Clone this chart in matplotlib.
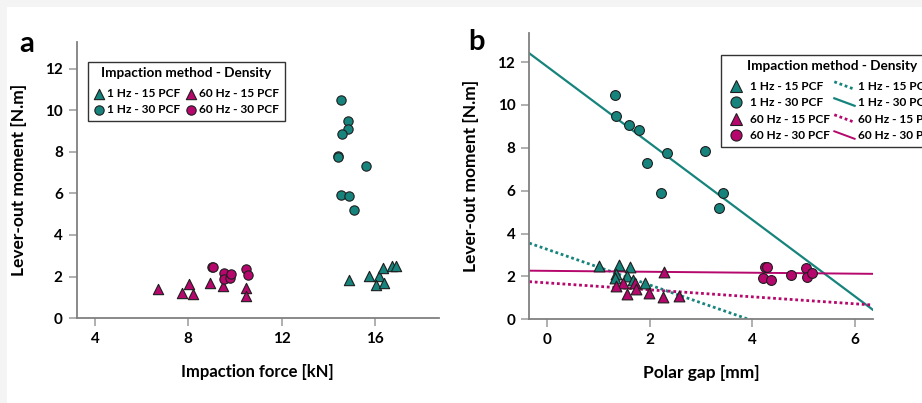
import matplotlib
matplotlib.use("Agg")
import matplotlib.pyplot as plt
import numpy as np
from matplotlib.lines import Line2D
from matplotlib.patches import Rectangle
from matplotlib.legend_handler import HandlerLine2D

plt.rcParams['font.family'] = ['Lato', 'DejaVu Sans']
plt.rcParams['font.weight'] = 'bold'

TEAL = '#16847d'
MAGENTA = '#b5076c'

# --- panel a: impaction force [kN] vs lever-out moment [N.m] ---
a_1hz15_x = [14.89, 15.73, 16.17, 16.33, 16.03, 16.39, 16.74, 16.90]
a_1hz15_y = [1.85, 2.03, 2.04, 2.40, 1.60, 1.70, 2.52, 2.50]
a_1hz30_x = [14.56, 14.83, 14.86, 14.57, 14.43, 14.43, 15.63, 14.54, 14.89, 15.11]
a_1hz30_y = [10.50, 9.50, 9.09, 8.85, 7.83, 7.74, 7.32, 5.92, 5.90, 5.20]
a_60hz15_x = [6.71, 7.71, 8.01, 8.19, 8.93, 9.50, 10.47, 10.47, 9.60]
a_60hz15_y = [1.42, 1.21, 1.66, 1.16, 1.67, 1.54, 1.46, 1.08, 2.00]
a_60hz30_x = [9.00, 9.05, 9.53, 9.53, 9.79, 9.84, 10.47, 10.57]
a_60hz30_y = [2.44, 2.45, 2.17, 1.90, 1.93, 2.10, 2.38, 2.07]

# --- panel b: polar gap [mm] vs lever-out moment [N.m] ---
b_1hz15_x = [1.02, 1.41, 1.62, 1.35, 1.33, 1.57, 1.67, 1.92]
b_1hz15_y = [2.50, 2.53, 2.42, 2.10, 1.91, 2.03, 1.83, 1.68]
b_1hz30_x = [1.32, 1.35, 1.60, 1.80, 1.96, 2.33, 2.22, 3.08, 3.42, 3.36]
b_1hz30_y = [10.48, 9.47, 9.08, 8.85, 7.31, 7.74, 5.89, 7.83, 5.91, 5.19]
b_60hz15_x = [2.29, 1.49, 1.35, 1.72, 1.74, 1.56, 1.98, 2.27, 2.58]
b_60hz15_y = [2.19, 1.68, 1.57, 1.68, 1.40, 1.18, 1.24, 1.03, 1.09]
b_60hz30_x = [4.25, 4.29, 4.20, 4.36, 4.75, 5.04, 5.07, 5.16]
b_60hz30_y = [2.45, 2.46, 1.91, 1.83, 2.07, 2.38, 1.99, 2.15]

# linear fits: (intercept, slope)
fit_1hz15 = (3.27, -0.833)
fit_1hz30 = (11.80, -1.79)
fit_60hz15 = (1.70, -0.163)
fit_60hz30 = (2.26, -0.022)

labels = ['1 Hz - 15 PCF', '1 Hz - 30 PCF', '60 Hz - 15 PCF', '60 Hz - 30 PCF']
legend_title = 'Impaction method - Density'


class HandlerSlant(HandlerLine2D):
    # legend line drawn as a short diagonal, like the original
    def create_artists(self, legend, orig_handle, xdescent, ydescent,
                       width, height, fontsize, trans):
        line = Line2D([-xdescent, width - xdescent],
                      [height * 0.95 - ydescent, -ydescent + height * 0.05])
        self.update_prop(line, orig_handle, legend)
        line.set_transform(trans)
        return [line]


def style_axes(ax):
    for side in ('top', 'right'):
        ax.spines[side].set_visible(False)
    for side in ('left', 'bottom'):
        ax.spines[side].set_color('#808080')
        ax.spines[side].set_linewidth(1.3)
    ax.tick_params(length=6, width=1.1, color='#9a9a9a', pad=4,
                   labelsize=11)
    for t in ax.get_xticklabels() + ax.get_yticklabels():
        t.set_fontweight('bold')


leg_kw = dict(title=legend_title,
              title_fontproperties={'weight': 'bold', 'size': 9.8},
              prop={'weight': 'bold', 'size': 8.6},
              fancybox=False, edgecolor='#333333', framealpha=1,
              handletextpad=0.25, labelspacing=0.46, borderpad=0.45,
              loc='upper left', borderaxespad=0, ncol=2)

fig = plt.figure(figsize=(9.22, 4.03), dpi=100)
fig.patch.set_facecolor('#f4f4f4')
fig.patches.append(Rectangle((0.0076, 0), 1, 0.9826, transform=fig.transFigure,
                             facecolor='white', edgecolor='none', zorder=-10))

mk = dict(edgecolor='#1e1e1e', linewidths=0.8, zorder=3)

# ── panel a ──
ax1 = fig.add_axes([0.0832, 0.2109, 0.3929, 0.6849])
ax1.scatter(a_1hz15_x, a_1hz15_y, marker='^', s=55, color=TEAL, label=labels[0], **mk)
ax1.scatter(a_1hz30_x, a_1hz30_y, marker='o', s=45, color=TEAL, label=labels[1], **mk)
ax1.scatter(a_60hz15_x, a_60hz15_y, marker='^', s=55, color=MAGENTA, label=labels[2], **mk)
ax1.scatter(a_60hz30_x, a_60hz30_y, marker='o', s=45, color=MAGENTA, label=labels[3], **mk)
ax1.set_xlim(3.22, 18.74)
ax1.set_ylim(0, 13.3)
ax1.set_xticks([4, 8, 12, 16])
ax1.set_yticks([0, 2, 4, 6, 8, 10, 12])
ax1.set_xlabel('Impaction force [kN]', fontsize=12, fontweight='bold', labelpad=13)
ax1.set_ylabel('Lever-out moment [N.m]', fontsize=12.5, fontweight='bold', labelpad=13)
style_axes(ax1)
leg1 = ax1.legend(bbox_to_anchor=(0.031, 0.9275), handlelength=0.9,
                  columnspacing=0.45, scatterpoints=1, **leg_kw)
leg1.get_frame().set_linewidth(1.0)
leg1._legend_box.sep = 6

# ── panel b ──
ax2 = fig.add_axes([0.574, 0.2077, 0.3725, 0.7097])
ax2.scatter(b_1hz15_x, b_1hz15_y, marker='^', s=60, color=TEAL, **mk)
ax2.scatter(b_1hz30_x, b_1hz30_y, marker='o', s=50, color=TEAL, **mk)
ax2.scatter(b_60hz15_x, b_60hz15_y, marker='^', s=60, color=MAGENTA, **mk)
ax2.scatter(b_60hz30_x, b_60hz30_y, marker='o', s=50, color=MAGENTA, **mk)

xlim_b = (-0.34, 6.34)
xs = np.array(xlim_b)
dotted = (0, (1, 1))
l1, = ax2.plot(xs, fit_1hz15[0] + fit_1hz15[1] * xs, color=TEAL, lw=2, ls=dotted, zorder=2)
l2, = ax2.plot(xs, fit_1hz30[0] + fit_1hz30[1] * xs, color=TEAL, lw=1.6, zorder=2)
l3, = ax2.plot(xs, fit_60hz15[0] + fit_60hz15[1] * xs, color=MAGENTA, lw=2, ls=dotted, zorder=2)
l4, = ax2.plot(xs, fit_60hz30[0] + fit_60hz30[1] * xs, color=MAGENTA, lw=1.4, zorder=2)

ax2.set_xlim(*xlim_b)
ax2.set_ylim(0, 13.34)
ax2.set_xticks([0, 2, 4, 6])
ax2.set_yticks([0, 2, 4, 6, 8, 10, 12])
ax2.set_xlabel('Polar gap [mm]', fontsize=12.5, fontweight='bold', labelpad=13)
ax2.set_ylabel('Lever-out moment [N.m]', fontsize=12.5, fontweight='bold', labelpad=13)
style_axes(ax2)

mh = dict(linestyle='none', markeredgecolor='#1e1e1e', markeredgewidth=0.8, markersize=8)
marker_handles = [
    Line2D([], [], marker='^', color=TEAL, **mh),
    Line2D([], [], marker='o', color=TEAL, **mh),
    Line2D([], [], marker='^', color=MAGENTA, **mh),
    Line2D([], [], marker='o', color=MAGENTA, **mh),
]
line_handles = [l1, l2, l3, l4]
leg2 = ax2.legend(marker_handles + line_handles, labels + labels,
                  bbox_to_anchor=(0.558, 0.924), handlelength=1.7,
                  columnspacing=0.4,
                  handler_map={l: HandlerSlant() for l in line_handles}, **leg_kw)
leg2.get_frame().set_linewidth(1.0)
leg2._legend_box.sep = 6

fig.text(0.0206, 0.871, 'a', fontsize=21, fontweight='bold', ha='left', va='baseline')
fig.text(0.508, 0.876, 'b', fontsize=21, fontweight='bold', ha='left', va='baseline')

fig.savefig('out.png', dpi=100)
